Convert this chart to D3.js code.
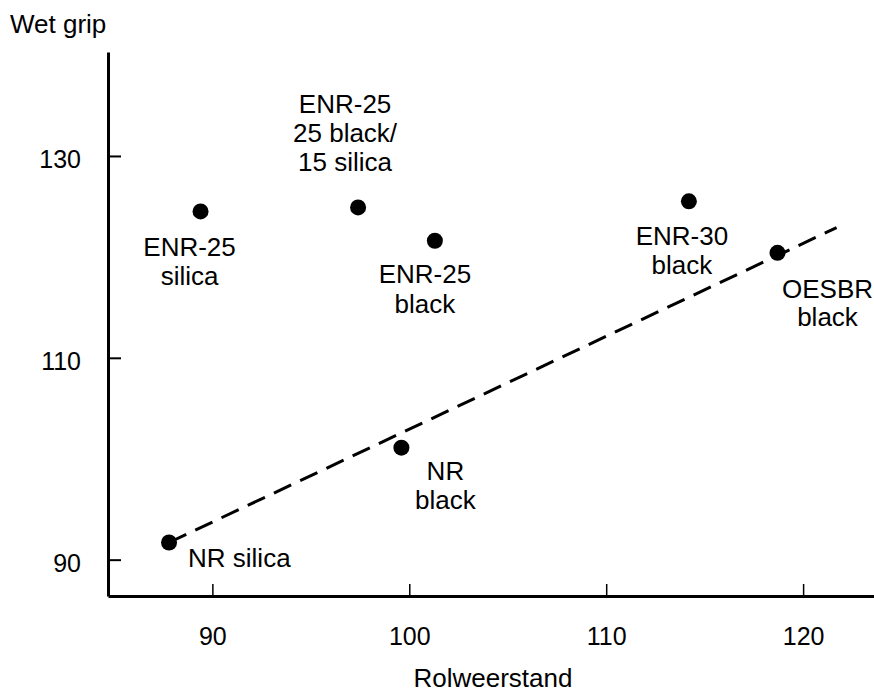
<!DOCTYPE html>
<html>
<head>
<meta charset="utf-8">
<script src="https://cdn.jsdelivr.net/npm/d3@7"></script>
<style>
  body { margin: 0; background: #fff; }
  svg text { font-family: "Liberation Sans", Arial, Helvetica, sans-serif; fill: #000; }
</style>
</head>
<body>
<div class="chartBox"></div>
<script>
// data
var compounds = ['NR silica', 'NR black', 'ENR-25 silica', 'ENR-25 25 black/15 silica', 'ENR-25 black', 'ENR-30 black', 'OESBR black'];
var rolweerstand = [87.8, 99.6, 89.4, 97.4, 101.3, 114.2, 118.7];
var wetGrip = [91.7, 101.1, 124.5, 124.9, 121.6, 125.5, 120.4];
var trendX = [87.8, 121.7];
var trendY = [91.7, 122.9];
var xTicks = [90, 100, 110, 120];
var yTicks = [90, 110, 130];

var w = 874, h = 693;

var svg = d3.select('div.chartBox')
  .append('svg')
  .attr('width', w)
  .attr('height', h);

var x = d3.scaleLinear().domain([84.7, 123.6]).range([108, 874]);
var y = d3.scaleLinear().domain([86.4, 140.3]).range([596, 52]);

// label placement, pixels relative to each dot
var labelPos = {
  'NR silica':                 { lines: ['NR silica'], dx: 19, dy: 24, lh: 0, anchor: 'start' },
  'NR black':                  { lines: ['NR', 'black'], dx: 44, dy: 32, lh: 29 },
  'ENR-25 silica':             { lines: ['ENR-25', 'silica'], dx: -11, dy: 45, lh: 28.5 },
  'ENR-25 25 black/15 silica': { lines: ['ENR-25', '25 black/', '15 silica'], dx: -13, dy: -94, lh: 29 },
  'ENR-25 black':              { lines: ['ENR-25', 'black'], dx: -10, dy: 42, lh: 30 },
  'ENR-30 black':              { lines: ['ENR-30', 'black'], dx: -7, dy: 44, lh: 28.5 },
  'OESBR black':               { lines: ['OESBR', 'black'], dx: 50, dy: 45, lh: 28.5 }
};

var pts = compounds.map(function(c, i) { return { name: c, rx: rolweerstand[i], wg: wetGrip[i] }; });

// axes
var yAxis = d3.axisLeft(y).tickValues(yTicks).tickSizeInner(-13).tickSizeOuter(0).tickPadding(27);
var xAxis = d3.axisBottom(x).tickValues(xTicks).tickSizeInner(-12).tickSizeOuter(0).tickPadding(31);

var gy = svg.append('g').attr('transform', 'translate(' + x.range()[0] + ',0)').call(yAxis);
var gx = svg.append('g').attr('transform', 'translate(0,' + y.range()[0] + ')').call(xAxis);

[gy, gx].forEach(function(g) {
  g.select('.domain').attr('stroke', '#000').attr('stroke-width', 3);
  g.selectAll('.tick line').attr('stroke', '#000').attr('stroke-width', 2);
  g.selectAll('.tick text').attr('font-size', 25).attr('font-family', null);
});
gy.selectAll('.tick text').attr('dy', '0.47em');
gx.selectAll('.tick line').attr('stroke-width', 1.5);

// axis titles
svg.append('text')
  .attr('x', 10).attr('y', 33)
  .attr('font-size', 26)
  .text('Wet grip');

svg.append('text')
  .attr('x', 493).attr('y', 687)
  .attr('text-anchor', 'middle')
  .attr('font-size', 26)
  .text('Rolweerstand');

// dashed trend line
svg.append('line')
  .attr('x1', x(trendX[0])).attr('y1', y(trendY[0]))
  .attr('x2', x(trendX[1])).attr('y2', y(trendY[1]))
  .attr('stroke', '#000')
  .attr('stroke-width', 3)
  .attr('stroke-dasharray', '19,10');

// dots
svg.selectAll('circle.pt')
  .data(pts)
  .enter()
  .append('circle')
  .attr('class', 'pt')
  .attr('cx', function(d) { return x(d.rx); })
  .attr('cy', function(d) { return y(d.wg); })
  .attr('r', 8)
  .attr('fill', '#000');

// labels
var lab = svg.selectAll('text.lbl')
  .data(pts)
  .enter()
  .append('text')
  .attr('class', 'lbl')
  .attr('font-size', 26)
  .attr('text-anchor', function(d) { return labelPos[d.name].anchor || 'middle'; });

lab.each(function(d) {
  var p = labelPos[d.name];
  var t = d3.select(this);
  p.lines.forEach(function(s, i) {
    t.append('tspan')
      .attr('x', x(d.rx) + p.dx)
      .attr('y', y(d.wg) + p.dy + i * p.lh)
      .text(s);
  });
});
</script>
</body>
</html>
